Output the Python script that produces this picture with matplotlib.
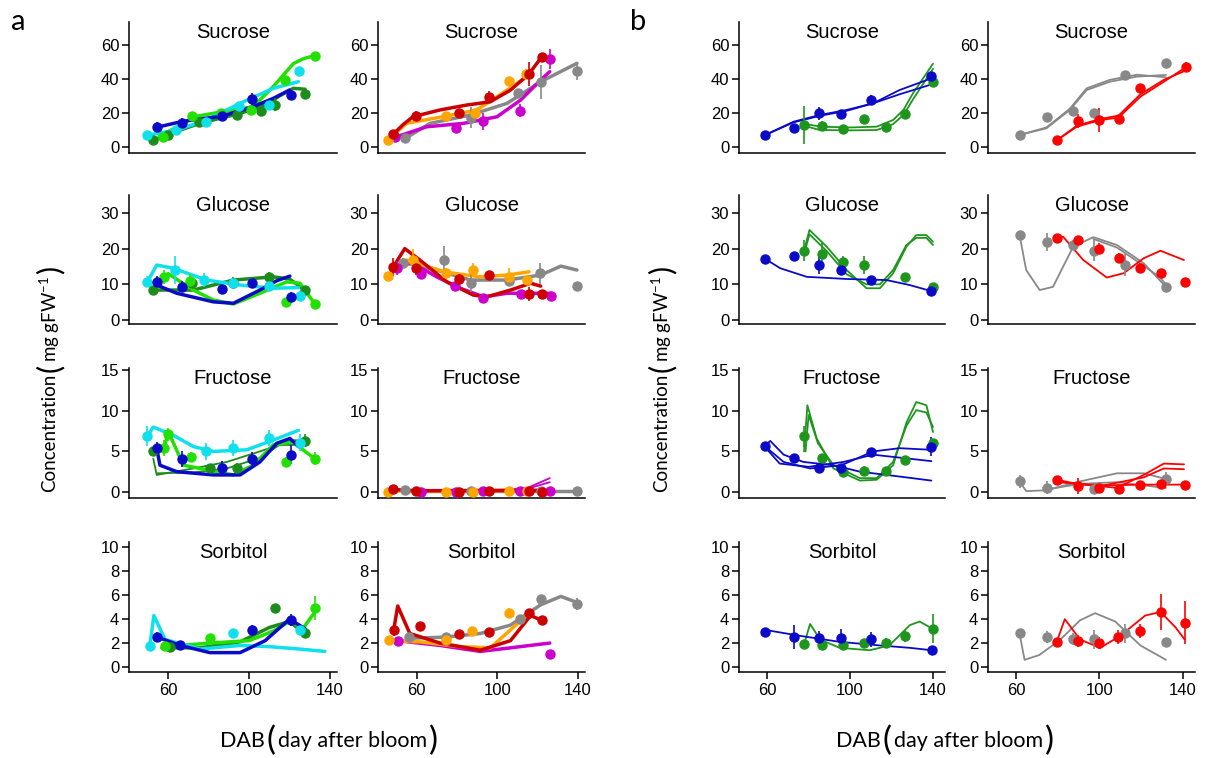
import matplotlib
matplotlib.use('Agg')
import matplotlib.pyplot as plt

plt.rcParams['font.family'] = ['Liberation Sans', 'DejaVu Sans']
plt.rcParams['mathtext.fontset'] = 'custom'
plt.rcParams['mathtext.rm'] = 'Lato'
plt.rcParams['mathtext.default'] = 'regular'

DKGREEN = '#1c8c1c'
LTGREEN = '#22e000'
CYAN = '#10e0ec'
BLUE = '#0a0ac8'
ORANGE = '#ffa500'
DKRED = '#cc0000'
MAGENTA = '#cc00cc'
GRAY = '#888888'
RED = '#ff0000'
GREENB = '#1e961e'

sugars = ['Sucrose', 'Glucose', 'Fructose', 'Sorbitol']
xticks = [60, 100, 140]

# ---------------- data: points (day, value, error) and fitted curves (day, value) -------------
# ===== a, left column =====
a1_suc_dkgreen_pts = [(52.7, 4.1, 1), (60, 7, 1), (75.5, 15, 1.5), (94, 19, 2), (106, 21, 3), (113, 25, 4), (127.7, 31, 1.5)]
a1_suc_dkgreen_fit = [[(52.7, 4), (60, 7.5), (75.8, 14), (95.6, 19.8), (108.7, 25), (115, 30), (121.9, 34.5), (127.7, 34)]]
a1_suc_ltgreen_pts = [(57.7, 6, 1), (72, 18, 1.5), (86, 20, 2), (101, 22, 2), (117.8, 39.4, 1.5), (132.6, 53.7, 1.5)]
a1_suc_ltgreen_fit = [[(55.7, 6.5), (65, 12), (72.5, 17.8), (92.3, 21.8), (102, 23.7), (112, 35.5), (121.9, 49), (127, 52), (132.6, 53.7)]]
a1_suc_cyan_pts = [(49.8, 7, 1.5), (64, 10, 1.5), (79, 15, 2), (95, 24, 2), (110, 25, 2), (124.7, 44.7, 2.5)]
a1_suc_cyan_fit = [[(49.8, 7), (64.3, 10), (79, 15.9), (95.6, 25.7), (112, 34.5), (124.4, 38.4)]]
a1_suc_blue_pts = [(54.4, 11.6, 3), (66.8, 14.3, 3), (86.8, 18.2, 2), (101.6, 28, 3.5), (120.7, 30.6, 3)]
a1_suc_blue_fit = [[(54.4, 11.6), (66.8, 15), (86.8, 18.2), (102, 23.7), (112, 28.6), (120, 33.5)]]

a1_glu_dkgreen_pts = [(52.7, 8.5, 1), (72, 10.5, 1.5), (92, 10.5, 1.5), (110, 12, 1.5), (127.7, 8.4, 1)]
a1_glu_dkgreen_fit = [[(52.7, 8.4), (72.5, 8.4), (92.3, 11.2), (112, 12.1), (120, 11.5), (127.7, 8.4)]]
a1_glu_ltgreen_pts = [(58, 12, 2), (71, 11, 2), (118.3, 5, 1), (132.6, 4.5, 1)]
a1_glu_ltgreen_fit = [[(58, 12), (60, 13), (72.5, 8.4), (82.4, 5.6), (92.3, 4.5), (105.4, 7.5), (118.6, 10.7), (125.2, 10.3), (132.6, 4.5)]]
a1_glu_cyan_pts = [(49.8, 10.7, 1.5), (63.5, 14, 4), (77.8, 11.2, 2), (92, 10.3, 1.5), (110, 9.5, 1.5), (125.2, 6.7, 1.5)]
a1_glu_cyan_fit = [[(49.8, 10.7), (54.4, 15.4), (62.6, 14.5), (79, 11.2), (95.6, 9.8), (112, 8.9), (124.4, 9.1)]]
a1_glu_blue_pts = [(54.4, 10.7, 1.5), (67, 9.3, 1.5), (86.8, 8.7, 1.2), (101.6, 10.3, 1.2), (120.7, 6.4, 1.5)]
a1_glu_blue_fit = [[(54.4, 9.8), (64.3, 7.5), (82.4, 5.1), (92.3, 4.7), (105.4, 8.4), (113.7, 11), (120.2, 12.3)]]

a1_fru_dkgreen_pts = [(52.7, 5, 0.6), (80.7, 2.9, 0.6), (94.2, 3, 0.6), (127.7, 6.3, 0.8)]
a1_fru_dkgreen_fit = [[(52.7, 4.1), (54.4, 2.1), (72.5, 2.9), (89, 3.7), (105.4, 5), (121.9, 6.4), (127.7, 6.3)],
                      [(54.4, 2.3), (72.5, 2.4), (89, 2.9), (105.4, 4.2), (115, 5.8), (121.9, 5.8), (127.7, 6)]]
a1_fru_ltgreen_pts = [(58, 5.4, 1), (60.2, 7.1, 0.8), (71.2, 4.3, 0.6), (118.3, 3.7, 0.6), (132.6, 4.1, 0.8)]
a1_fru_ltgreen_fit = [[(58, 5.4), (60.2, 7.4), (67.6, 3.3), (75.8, 2.9), (92.3, 2.1), (102.1, 3.3), (112, 5.8), (121.9, 6.2), (127.7, 5), (132.6, 4.1)]]
a1_fru_cyan_pts = [(49.8, 6.9, 1.2), (78.6, 5, 1), (92, 5.4, 1), (110, 6.7, 1), (125.2, 6.1, 1)]
a1_fru_cyan_fit = [[(49.8, 6.9), (52.7, 8), (62.6, 7), (72.5, 5.6), (82.4, 5), (98.9, 5.2), (112, 6.4), (124.4, 7.6)]]
a1_fru_blue_pts = [(54.4, 5.4, 0.8), (67, 4.1, 1), (86.8, 3, 0.8), (101.6, 4.1, 0.8), (120.7, 4.6, 1.2)]
a1_fru_blue_fit = [[(54.4, 5.4), (56, 3.3), (64.3, 2.5), (82.4, 2.1), (95.6, 2.1), (105.4, 3.7), (113.7, 6), (120.2, 6.6), (124.4, 5.6)]]

a1_sor_dkgreen_pts = [(61, 1.7, 0.3), (113, 4.9, 0.3), (127.7, 2.8, 0.3)]
a1_sor_dkgreen_fit = [[(57, 1.6), (75.8, 1.6), (95.6, 2.1), (110, 3.3), (120, 3.8), (127.7, 2.8)]]
a1_sor_ltgreen_pts = [(58.5, 1.75, 0.3), (80.7, 2.4, 0.3), (132.6, 4.9, 1)]
a1_sor_ltgreen_fit = [[(58.5, 1.7), (80.7, 2.0), (100, 2.2), (112, 3), (120, 3.8), (127, 3.3), (132.6, 4.6)]]
a1_sor_cyan_pts = [(51.1, 1.75, 0.3), (92, 2.8, 0.3), (125, 3.1, 0.3)]
a1_sor_cyan_fit = [[(51, 1.8), (53, 4.3), (58.5, 2.3), (75.8, 1.5), (95.6, 1.8), (110, 1.7), (125, 1.5), (137.5, 1.3)]]
a1_sor_blue_pts = [(54.6, 2.5, 0.4), (66, 1.8, 0.3), (101.5, 3.1, 0.4), (120.7, 3.9, 0.5)]
a1_sor_blue_fit = [[(54.6, 2.5), (66, 1.8), (80.7, 1.2), (95.6, 1.2), (108, 2.2), (120, 4), (127.7, 3.2)]]

# ===== a, right column =====
a2_suc_gray_pts = [(54.3, 5.1, 1), (87, 17.3, 6), (110, 31.6, 2), (121.5, 38.4, 10), (139.5, 44.7, 5)]
a2_suc_gray_fit = [[(54.3, 5.1), (66.5, 13.9), (86.5, 18.8), (104.8, 25.7), (121.5, 38.4), (139.5, 49.2)]]
a2_suc_magenta_pts = [(49, 6, 1), (79.5, 11, 1.5), (92.7, 15.3, 5), (111, 21.4, 4), (126, 51.6, 6)]
a2_suc_magenta_fit = [[(49.8, 6), (64.8, 11.9), (83, 13.9), (99.8, 17.8), (111.5, 27.6), (122, 40), (126, 44.3)]]
a2_suc_orange_pts = [(45.7, 4.1, 1), (74.5, 18.2, 1.5), (89, 20, 2), (106, 38.8, 2), (114, 43, 3)]
a2_suc_orange_fit = [[(45.7, 4), (54.8, 13.9), (74.5, 18.2), (89.8, 21.8), (104.8, 33.5), (114.8, 41.4)]]
a2_suc_dkred_pts = [(48.2, 7.5, 2), (59.8, 18.2, 3), (81, 20.2, 2), (96, 29.2, 3.5), (115.7, 43, 7), (122, 53, 2)]
a2_suc_dkred_fit = [[(48.2, 7.5), (53, 13), (58, 17.8), (71.5, 21.8), (84.8, 24.7), (96.5, 26.6), (106.5, 33.5), (115.7, 43), (122, 53)]]

a2_glu_gray_pts = [(53, 16, 1.5), (73.5, 16.8, 4), (87, 10.3, 2.5), (106, 11, 1.5), (121, 13.1, 3), (139.5, 9.6, 1)]
a2_glu_gray_fit = [[(53, 16.3), (69.8, 14), (86.5, 11.2), (104.8, 11.2), (121.5, 12.6), (131.5, 15.1), (139.5, 14)]]
a2_glu_magenta_pts = [(50, 14.5, 2), (62, 13, 1.5), (79, 9.5, 1.2), (92.7, 6.1, 1.2), (111.5, 7.3, 1), (126.5, 6.7, 1)]
a2_glu_magenta_fit = [[(49.8, 15.4), (58.2, 15.9), (69.8, 12.1), (81.5, 8.9), (93.2, 6.5), (104.8, 7.5), (126.5, 7.5)]]
a2_glu_orange_pts = [(45.7, 12.4, 1), (58.2, 16.8, 3), (74.5, 13.1, 1.5), (87.8, 14, 2), (106, 12.1, 2.5), (114.8, 11.2, 1.5)]
a2_glu_orange_fit = [[(45.7, 12.4), (54.8, 16.8), (74.5, 13.4), (91.5, 12.1), (104.8, 12.6), (115.7, 13.5)]]
a2_glu_dkred_pts = [(48.2, 14.8, 2.5), (59.8, 14.5, 2), (81, 11.5, 1.5), (96, 12.6, 1), (115.7, 7.3, 2), (122, 7.3, 1)]
a2_glu_dkred_fit = [[(48.2, 14.8), (54, 20), (61.5, 16.8), (74.8, 10.7), (88, 7), (94.8, 6.5), (106.5, 8.4), (116.5, 10.3), (121.5, 9.5)]]

a2_fru_gray_pts = [(54.3, 0.2, 0.1), (87, 0.1, 0.1), (121.5, 0.1, 0.1), (139.5, 0.1, 0.1)]
a2_fru_gray_fit = [[(54.3, 0.15), (139.5, 0.15)]]
a2_fru_magenta_pts = [(62, 0.05, 0.1), (79.5, 0.05, 0.1), (92.7, 0.1, 0.1), (111, 0.1, 0.1), (126, 0.1, 0.1)]
a2_fru_magenta_fit = [[(50, 0.1), (100, 0.2), (115, 0.5), (126, 1.7)], [(100, 0.2), (115, 0.4), (126, 1.2)]]
a2_fru_orange_pts = [(45.7, 0.05, 0.1), (74.5, 0.05, 0.1), (87.8, 0.05, 0.1), (106, 0.1, 0.1), (114.8, 0.1, 0.1)]
a2_fru_orange_fit = [[(45.7, 0.1), (115, 0.2)]]
a2_fru_dkred_pts = [(48.2, 0.3, 0.2), (59.8, 0.1, 0.2), (81, 0.05, 0.1), (96, 0.1, 0.1), (115.7, 0.1, 0.2), (122, 0.05, 0.1)]
a2_fru_dkred_fit = [[(48.2, 0.3), (60, 0.15), (122, 0.2)]]

a2_sor_gray_pts = [(56, 2.5, 0.3), (74.5, 2.5, 0.3), (111, 4, 0.3), (121.5, 5.7, 0.3), (139.5, 5.3, 0.5)]
a2_sor_gray_fit = [[(56, 2.4), (74.5, 2.5), (91.5, 2.8), (106.5, 3.5), (121.5, 5.2), (131.5, 5.9), (139.5, 5.4)]]
a2_sor_magenta_pts = [(50.5, 2.2, 0.3), (126, 1.1, 0.2)]
a2_sor_magenta_fit = [[(50.5, 2.2), (71.5, 1.8), (91.5, 1.3), (106.5, 1.6), (126, 2)]]
a2_sor_orange_pts = [(46, 2.25, 0.3), (74.5, 2.25, 0.3), (87.5, 3, 0.3), (106, 4.5, 0.4)]
a2_sor_orange_fit = [[(46, 2.2), (61.5, 2.1), (81.5, 1.7), (96.5, 1.6), (106.5, 3.1), (116.5, 4.6)]]
a2_sor_dkred_pts = [(48.5, 3.1, 0.5), (61.5, 3.4, 0.3), (81, 2.75, 0.3), (96, 2.9, 0.3), (115.5, 4.5, 0.3), (122, 3.9, 0.3)]
a2_sor_dkred_fit = [[(48.5, 3.1), (50.5, 5.1), (56.5, 2.8), (71.5, 2), (91.5, 1.4), (106.5, 2.2), (116.5, 4.3), (122, 3.9)]]

# ===== b, left column =====
b1_suc_green_pts = [(77.8, 12.9, 11), (86.7, 12.4, 3), (96.8, 10.4, 1), (106.9, 16.3, 1), (117.3, 11.6, 1), (126.5, 19.2, 2), (140.2, 38.4, 2)]
b1_suc_green_fit = [[(77.8, 13.7), (85.5, 12), (100, 11.5), (113, 12), (120.9, 15.9), (126, 22), (130.5, 31.6), (140.2, 49)],
                    [(77.8, 12.5), (85.5, 10), (100, 9.8), (113, 10), (120.9, 13.5), (126, 19), (130.5, 28), (140.2, 46)]]
b1_suc_blue_pts = [(59, 7.1, 1), (73, 11, 1.5), (85.2, 19.8, 4), (95.7, 19.2, 1.5), (110, 27.6, 3), (139.4, 42, 2)]
b1_suc_blue_fit = [[(59, 7.1), (72.7, 14.9), (85.2, 18.8), (98.4, 21.8), (111.2, 25.7), (124, 31), (138.6, 36.5)],
                   [(59, 7.1), (72.7, 14.5), (85.2, 18.3), (98.4, 21.3), (111.2, 25.7), (124, 33.5), (138.6, 40)]]

b1_glu_green_pts = [(77.8, 19.4, 3), (86.7, 18.5, 3), (96.8, 16.3, 1.5), (106.9, 15.4, 2.5), (126.5, 12.1, 1), (140.2, 9.3, 1)]
b1_glu_green_fit = [[(77.8, 19.4), (80.4, 25.2), (88.8, 20.5), (98.4, 14), (108, 8.9), (114.5, 8.9), (120.9, 13.1), (127.3, 20.5), (132.1, 23.8), (137, 23.8), (140.2, 21.9)],
                    [(77.8, 18.5), (80.4, 24), (88.8, 19.3), (98.4, 12.8), (108, 10), (114.5, 10), (120.9, 14), (127.3, 21), (132.1, 23), (137, 23), (140.2, 21)]]
b1_glu_blue_pts = [(59, 17.1, 1), (73, 18, 1), (85.2, 15.4, 2.5), (95.7, 14, 1.5), (110, 11.2, 1), (139.4, 8.1, 1)]
b1_glu_blue_fit = [[(59, 17.1), (66.3, 14.5), (79.1, 12.1), (98.4, 11.5), (117.7, 11.2), (128.9, 9.8), (139.4, 8.1)]]

b1_fru_green_pts = [(77.8, 6.9, 1.3), (86.7, 4.2, 0.4), (96.8, 2.5, 0.4), (106.9, 2.6, 0.6), (117.3, 2.6, 0.4), (126.5, 3.9, 0.4), (140.2, 6, 0.5)]
b1_fru_green_fit = [[(77.8, 5), (79.4, 10.7), (83.9, 6.6), (92, 2.9), (104.8, 1.4), (112.9, 1.5), (120.9, 3.3), (127.4, 8.6), (132.1, 11.1), (137, 10.7), (140.2, 7.4)],
                    [(78.5, 5), (80, 9.5), (84.5, 6), (92, 3.3), (104.8, 1.7), (112.9, 1.7), (120.9, 3.7), (127.4, 8.2), (132.1, 10.1), (137, 9.8), (140.2, 8)]]
b1_fru_blue_pts = [(59, 5.7, 0.4), (73, 4.2, 0.4), (85.2, 3, 0.5), (95.7, 2.9, 0.6), (110, 4.9, 0.4), (139.4, 5.6, 1.2)]
b1_fru_blue_fit = [[(59, 5.7), (61.4, 6.3), (67.9, 4.6), (77.5, 3.7), (92, 3.3), (104.8, 2.5), (120.9, 2), (139.4, 1.4)],
                   [(59, 5.6), (67.9, 3.7), (80.7, 2.9), (95.9, 3.3), (111.2, 5), (124, 5.4), (139.4, 5.2)],
                   [(59, 5.5), (66, 3.5), (80, 3.1), (96.8, 3.7), (111.2, 4.6), (139.4, 3.8)]]

b1_sor_green_pts = [(77.8, 1.9, 0.3), (86.5, 1.8, 0.4), (96.6, 1.8, 0.3), (106.7, 2, 0.3), (117.3, 2.0, 0.4), (126.5, 2.6, 0.5), (140, 3.2, 1.2)]
b1_sor_green_fit = [[(77.8, 1.9), (80.7, 3.6), (85.5, 2.3), (95, 1.6), (109.6, 1.4), (119, 1.8), (129, 3.5), (133.7, 3.8), (140, 3.2)]]
b1_sor_blue_pts = [(59, 2.9, 0.3), (73, 2.5, 1), (85, 2.4, 0.6), (95.7, 2.4, 0.8), (110, 2.3, 0.6), (139.5, 1.4, 0.3)]
b1_sor_blue_fit = [[(59, 3.1), (76, 2.6), (95, 2.1), (114.5, 1.8), (129, 1.6), (139.5, 1.4)]]

# ===== b, right column =====
b2_suc_gray_pts = [(61.5, 7.1, 1), (74.7, 17.8, 1), (87.3, 21.2, 3), (97.4, 20.2, 1.5), (112.4, 42.4, 1.5), (132, 49.6, 1)]
b2_suc_gray_fit = [[(61.5, 7.1), (74.4, 11), (85.7, 21.8), (93.8, 33.5), (105, 38.4), (118, 41.4), (132, 42.4)],
                   [(61.5, 7.1), (74.4, 11.5), (85.7, 22.5), (93.8, 34.5), (105, 39.5), (118, 42.5), (132, 41)]]
b2_suc_red_pts = [(79.6, 4.1, 1), (89.8, 15.3, 4), (99.8, 15.9, 7), (109.2, 16.3, 2), (119.7, 34.9, 1.5), (141.6, 46.9, 3)]
b2_suc_red_fit = [[(79.6, 4.1), (89, 11.9), (100.3, 15.9), (109.2, 17.3), (119.7, 29.6), (131, 38.4), (141.6, 46.9)],
                  [(79.6, 4.1), (89, 12.5), (100.3, 16.5), (109.2, 18.5), (119.7, 31), (131, 39.5), (141.6, 45)]]

b2_glu_gray_pts = [(61.5, 23.8, 1), (74.7, 21.9, 2.5), (87.3, 21, 1.5), (97.4, 19.4, 3), (112.4, 15.4, 3), (132, 9.3, 1)]
b2_glu_gray_fit = [[(61.5, 23.8), (64.7, 14), (71.2, 8.4), (77.6, 9.3), (87.3, 20.5), (97, 23.2), (108.4, 21), (121.3, 15.9), (132, 9.3)],
                   [(97, 22.7), (108.4, 20.3), (121.3, 15.2), (129, 12), (132, 10)]]
b2_glu_red_pts = [(79.6, 22.9, 1), (89.8, 22.4, 1), (99.8, 20, 1.5), (109.2, 17.5, 1.2), (119.7, 14.5, 1), (129.4, 13.1, 1), (141, 10.7, 1)]
b2_glu_red_fit = [[(79.6, 22.9), (82.5, 23.3), (92.2, 16.8), (103.5, 11.9), (111.6, 13.1), (121.3, 17.3), (129.4, 19.4), (140.7, 16.8)]]

b2_fru_gray_pts = [(61.5, 1.3, 0.8), (74.7, 0.5, 0.8), (97.4, 0.3, 0.2), (132, 1.6, 0.8)]
b2_fru_gray_fit = [[(61.5, 1.3), (64.7, 0.1), (74.4, 0.2), (90.6, 1.3), (108.4, 2.3), (121.3, 2.3), (132, 1.6)],
                   [(74.4, 0.3), (90.6, 1), (108.4, 1.2), (121.3, 0.8), (132, 0.5)]]
b2_fru_red_pts = [(79.6, 1.5, 0.4), (89.8, 0.7, 1), (99.8, 0.5, 0.2), (109.2, 0.3, 0.2), (119.7, 0.8, 0.2), (129.4, 1, 0.3), (141, 0.8, 0.3)]
b2_fru_red_fit = [[(79.6, 1.5), (89, 1), (108.4, 0.5), (121.3, 2.1), (131, 3.5), (140.7, 3.4)],
                  [(79.6, 1.3), (100, 0.7), (121.3, 1.8), (131, 2.9), (140.7, 2.8)],
                  [(79.6, 1.2), (100, 0.8), (121.3, 0.9), (140.7, 0.9)]]

b2_sor_gray_pts = [(61.5, 2.8, 0.3), (74.6, 2.5, 0.5), (87.2, 2.3, 0.5), (97.4, 2.3, 0.8), (112.4, 2.8, 0.8), (132, 2.1, 0.3)]
b2_sor_gray_fit = [[(61.5, 2.8), (63.9, 0.6), (71, 1), (80.9, 2.25), (90.6, 3.9), (97.9, 4.5), (107.6, 3.8), (119.7, 1.8), (132, 0.6)]]
b2_sor_red_pts = [(79.4, 2.1, 0.3), (89.6, 2.2, 0.5), (99.8, 2.0, 0.5), (109, 2.5, 0.6), (119.7, 3.0, 0.6), (129.4, 4.6, 1.5), (141, 3.7, 1.8)]
b2_sor_red_fit = [[(79.4, 2.1), (83.3, 4), (90.6, 2.3), (100.3, 1.6), (110, 2.6), (122, 4.3), (129.4, 4.6), (136.7, 3.3), (141, 2.3)]]

# ---------------- panel assembly ----------------
panels = {
    (0, 0): [(DKGREEN, a1_suc_dkgreen_pts, a1_suc_dkgreen_fit), (LTGREEN, a1_suc_ltgreen_pts, a1_suc_ltgreen_fit),
             (CYAN, a1_suc_cyan_pts, a1_suc_cyan_fit), (BLUE, a1_suc_blue_pts, a1_suc_blue_fit)],
    (0, 1): [(DKGREEN, a1_glu_dkgreen_pts, a1_glu_dkgreen_fit), (LTGREEN, a1_glu_ltgreen_pts, a1_glu_ltgreen_fit),
             (CYAN, a1_glu_cyan_pts, a1_glu_cyan_fit), (BLUE, a1_glu_blue_pts, a1_glu_blue_fit)],
    (0, 2): [(DKGREEN, a1_fru_dkgreen_pts, a1_fru_dkgreen_fit), (LTGREEN, a1_fru_ltgreen_pts, a1_fru_ltgreen_fit),
             (CYAN, a1_fru_cyan_pts, a1_fru_cyan_fit), (BLUE, a1_fru_blue_pts, a1_fru_blue_fit)],
    (0, 3): [(DKGREEN, a1_sor_dkgreen_pts, a1_sor_dkgreen_fit), (LTGREEN, a1_sor_ltgreen_pts, a1_sor_ltgreen_fit),
             (CYAN, a1_sor_cyan_pts, a1_sor_cyan_fit), (BLUE, a1_sor_blue_pts, a1_sor_blue_fit)],
    (1, 0): [(GRAY, a2_suc_gray_pts, a2_suc_gray_fit), (MAGENTA, a2_suc_magenta_pts, a2_suc_magenta_fit),
             (ORANGE, a2_suc_orange_pts, a2_suc_orange_fit), (DKRED, a2_suc_dkred_pts, a2_suc_dkred_fit)],
    (1, 1): [(GRAY, a2_glu_gray_pts, a2_glu_gray_fit), (MAGENTA, a2_glu_magenta_pts, a2_glu_magenta_fit),
             (ORANGE, a2_glu_orange_pts, a2_glu_orange_fit), (DKRED, a2_glu_dkred_pts, a2_glu_dkred_fit)],
    (1, 2): [(GRAY, a2_fru_gray_pts, a2_fru_gray_fit), (MAGENTA, a2_fru_magenta_pts, a2_fru_magenta_fit),
             (ORANGE, a2_fru_orange_pts, a2_fru_orange_fit), (DKRED, a2_fru_dkred_pts, a2_fru_dkred_fit)],
    (1, 3): [(GRAY, a2_sor_gray_pts, a2_sor_gray_fit), (MAGENTA, a2_sor_magenta_pts, a2_sor_magenta_fit),
             (ORANGE, a2_sor_orange_pts, a2_sor_orange_fit), (DKRED, a2_sor_dkred_pts, a2_sor_dkred_fit)],
    (2, 0): [(GREENB, b1_suc_green_pts, b1_suc_green_fit), (BLUE, b1_suc_blue_pts, b1_suc_blue_fit)],
    (2, 1): [(GREENB, b1_glu_green_pts, b1_glu_green_fit), (BLUE, b1_glu_blue_pts, b1_glu_blue_fit)],
    (2, 2): [(GREENB, b1_fru_green_pts, b1_fru_green_fit), (BLUE, b1_fru_blue_pts, b1_fru_blue_fit)],
    (2, 3): [(GREENB, b1_sor_green_pts, b1_sor_green_fit), (BLUE, b1_sor_blue_pts, b1_sor_blue_fit)],
    (3, 0): [(GRAY, b2_suc_gray_pts, b2_suc_gray_fit), (RED, b2_suc_red_pts, b2_suc_red_fit)],
    (3, 1): [(GRAY, b2_glu_gray_pts, b2_glu_gray_fit), (RED, b2_glu_red_pts, b2_glu_red_fit)],
    (3, 2): [(GRAY, b2_fru_gray_pts, b2_fru_gray_fit), (RED, b2_fru_red_pts, b2_fru_red_fit)],
    (3, 3): [(GRAY, b2_sor_gray_pts, b2_sor_gray_fit), (RED, b2_sor_red_pts, b2_sor_red_fit)],
}

# ---------------- layout ----------------
W, H = 1211, 758
fig = plt.figure(figsize=(W / 100, H / 100), dpi=100)

col_left = [129, 378, 739, 988]
col_width = [208, 207, 206, 207]
row_top = [22, 195, 368, 542]
row_bot = [153, 324, 498, 672]
ylims = [(-3.5, 73.5), (-1.1, 35), (-0.75, 15.3), (-0.42, 10.45)]
yticks = [[0, 20, 40, 60], [0, 10, 20, 30], [0, 5, 10, 15], [0, 2, 4, 6, 8, 10]]
xlims = [(40.7, 143.5), (40.7, 143.5), (46.3, 146.0), (46.3, 146.0)]

for (c, r), series in panels.items():
    ax = fig.add_axes([col_left[c] / W, 1 - row_bot[r] / H, col_width[c] / W, (row_bot[r] - row_top[r]) / H])
    for s in ['top', 'right']:
        ax.spines[s].set_visible(False)
    for s in ['left', 'bottom']:
        ax.spines[s].set_linewidth(1.1)
    ax.set_xlim(*xlims[c])
    ax.set_ylim(*ylims[r])
    ax.set_yticks(yticks[r])
    ax.set_xticks(xticks)
    ax.tick_params(axis='y', length=5, width=1.1, labelsize=12, pad=2)
    if r == 3:
        ax.tick_params(axis='x', length=5, width=1.1, labelsize=12, pad=3)
    else:
        ax.tick_params(axis='x', length=0, labelbottom=False)
    ax.text(0.5, 0.92, sugars[r], transform=ax.transAxes, ha='center', va='center', fontsize=14.5)
    group_a = c < 2
    for color, pts, fits in series:
        if group_a:
            lw = 2.5 if len(fits) == 1 else 1.3
        else:
            lw = 1.3
        for fit in fits:
            ax.plot([p[0] for p in fit], [p[1] for p in fit], color=color, lw=lw,
                    solid_joinstyle='round', solid_capstyle='round', zorder=2)
        ax.errorbar([p[0] for p in pts], [p[1] for p in pts], yerr=[p[2] for p in pts],
                    fmt='o', ms=6.5, color=color, ecolor=color, elinewidth=1.2, capsize=0, zorder=3,
                    clip_on=False)

# ---------------- labels ----------------
renderer = fig.canvas.get_renderer()
LABFONT = ['Lato', 'DejaVu Sans']


def hlabel(pieces, cx, cy, gap=2):
    texts = [fig.text(0, 1 - cy / H, s, fontsize=fs, family=LABFONT, va='center', ha='left')
             for s, fs in pieces]
    widths = [t.get_window_extent(renderer).width for t in texts]
    x = cx - (sum(widths) + gap * (len(texts) - 1)) / 2
    for t, w in zip(texts, widths):
        t.set_x(x / W)
        x += w + gap


def vlabel(pieces, cx, cy, gap=2):
    texts = [fig.text(cx / W, 0, s, fontsize=fs, family=LABFONT, va='bottom', ha='center', rotation=90)
             for s, fs in pieces]
    heights = [t.get_window_extent(renderer).height for t in texts]
    y = cy + (sum(heights) + gap * (len(texts) - 1)) / 2
    for t, h in zip(texts, heights):
        t.set_y(1 - y / H)
        y -= h + gap


xl_pieces = [('DAB', 15.5), ('(', 24), ('day after bloom', 15.5), (')', 24)]
yl_pieces = [('Concentration', 13.5), ('(', 22), ('mg gFW$^{-1}$', 13.5), (')', 22)]
hlabel(xl_pieces, 329, 741)
hlabel(xl_pieces, 945, 741)
vlabel(yl_pieces, 50, 379)
vlabel(yl_pieces, 662, 379)

fig.text(18 / W, 1 - 22 / H, 'a', fontsize=21, family=LABFONT, ha='center', va='center')
fig.text(638 / W, 1 - 22 / H, 'b', fontsize=21, family=LABFONT, ha='center', va='center')

fig.savefig('out.png', dpi=100)
